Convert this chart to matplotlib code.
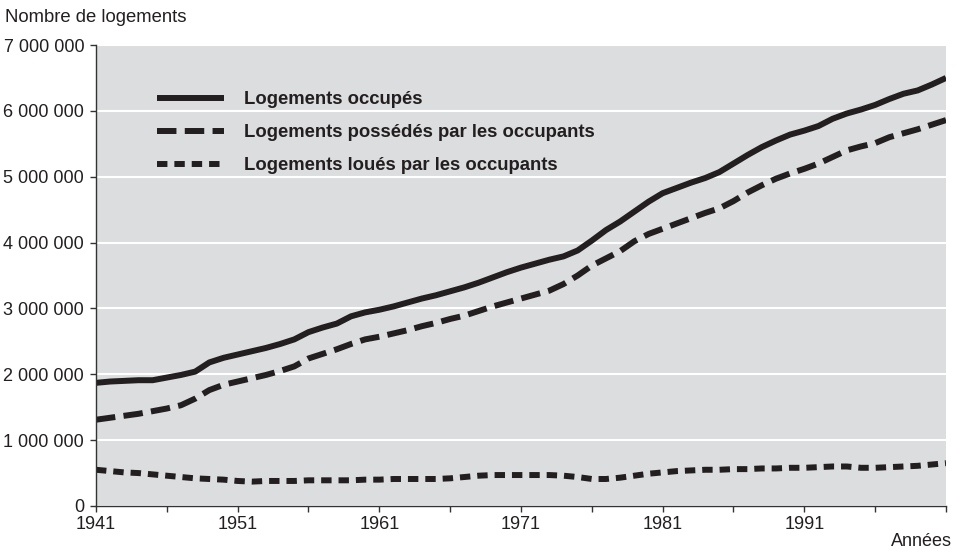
import numpy as np
import matplotlib
matplotlib.use("Agg")
import matplotlib.pyplot as plt
from matplotlib.ticker import FuncFormatter

plt.rcParams['font.family'] = ['Liberation Sans', 'DejaVu Sans']
plt.rcParams['lines.scale_dashes'] = False

annees = np.arange(1941, 2002)

# en millions de logements
occupes = [1.87, 1.89, 1.90, 1.91, 1.91, 1.95, 1.99, 2.04, 2.18, 2.25,
           2.30, 2.35, 2.40, 2.46, 2.53, 2.64, 2.71, 2.77, 2.88, 2.94,
           2.98, 3.03, 3.09, 3.15, 3.20, 3.26, 3.32, 3.39, 3.47, 3.55,
           3.62, 3.68, 3.74, 3.79, 3.88, 4.03, 4.19, 4.32, 4.47, 4.62,
           4.75, 4.83, 4.91, 4.98, 5.07, 5.20, 5.33, 5.45, 5.55, 5.64,
           5.70, 5.77, 5.88, 5.96, 6.02, 6.09, 6.18, 6.26, 6.31, 6.40,
           6.50]
possedes = [1.31, 1.34, 1.37, 1.40, 1.44, 1.48, 1.53, 1.63, 1.76, 1.84,
            1.89, 1.94, 1.99, 2.05, 2.12, 2.24, 2.31, 2.38, 2.46, 2.53,
            2.57, 2.62, 2.67, 2.73, 2.78, 2.84, 2.89, 2.96, 3.03, 3.09,
            3.15, 3.21, 3.27, 3.37, 3.50, 3.65, 3.76, 3.87, 4.02, 4.13,
            4.21, 4.29, 4.37, 4.45, 4.52, 4.63, 4.76, 4.87, 4.97, 5.05,
            5.12, 5.20, 5.30, 5.40, 5.46, 5.51, 5.60, 5.66, 5.72, 5.79,
            5.86]
loues = [0.55, 0.53, 0.51, 0.50, 0.48, 0.46, 0.44, 0.42, 0.41, 0.40,
         0.38, 0.37, 0.38, 0.38, 0.38, 0.39, 0.39, 0.39, 0.39, 0.40,
         0.40, 0.41, 0.41, 0.41, 0.41, 0.42, 0.44, 0.46, 0.47, 0.47,
         0.47, 0.47, 0.47, 0.46, 0.44, 0.41, 0.41, 0.43, 0.46, 0.49,
         0.51, 0.53, 0.54, 0.55, 0.55, 0.56, 0.56, 0.57, 0.57, 0.58,
         0.58, 0.59, 0.60, 0.60, 0.58, 0.58, 0.59, 0.60, 0.61, 0.63,
         0.65]

occupes = np.array(occupes) * 1e6
possedes = np.array(possedes) * 1e6
loues = np.array(loues) * 1e6

fig = plt.figure(figsize=(9.57, 5.55), dpi=100)
ax = fig.add_axes([0.1003, 0.0883, 0.8882, 0.8306])
ax.set_facecolor('#dcdddf')

c = '#231f20'
ax.plot(annees, occupes, color=c, lw=4.3, solid_capstyle='butt',
        label='Logements occupés')
ax.plot(annees, possedes, color=c, lw=4.3, dash_capstyle='butt',
        linestyle=(0, (14, 6)), label='Logements possédés par les occupants')
ax.plot(annees, loues, color=c, lw=4.3, dash_capstyle='butt',
        linestyle=(0, (7.5, 5)), label='Logements loués par les occupants')

ax.set_xlim(1941, 2001)
ax.set_ylim(0, 7e6)
ax.set_yticks(np.arange(0, 7.5e6, 1e6))
ax.yaxis.set_major_formatter(FuncFormatter(lambda v, p: f"{int(v):,}".replace(',', ' ')))
ax.set_xticks(np.arange(1941, 2002, 5))
ax.set_xticklabels([str(a) if (a - 1941) % 10 == 0 and a < 2001 else '' for a in range(1941, 2002, 5)])
ax.grid(axis='y', color='white', lw=1.5)
ax.set_axisbelow(True)

for s in ['top', 'right']:
    ax.spines[s].set_visible(False)
for s in ['left', 'bottom']:
    ax.spines[s].set_color('#333333')
    ax.spines[s].set_linewidth(1.0)
ax.tick_params(direction='out', length=4.5, width=1, color='#333333',
               labelsize=13, labelcolor='#231f20')
ax.tick_params(axis='y', pad=4)
ax.tick_params(axis='x', pad=3)

leg = ax.legend(loc='upper left', bbox_to_anchor=(0.072, 0.90), frameon=False,
                handlelength=3.6, handletextpad=1.1, labelspacing=0.87,
                borderaxespad=0, borderpad=0, prop={'size': 13.3, 'weight': 'bold'})
for t in leg.get_texts():
    t.set_color('#231f20')

fig.text(0.005, 1 - 17 / 555, 'Nombre de logements', fontsize=13.3, va='center',
         ha='left', color='#231f20')
fig.text(952 / 957, 1 - 542 / 555, 'Années', fontsize=13, va='center',
         ha='right', color='#231f20')

fig.savefig('out.png', dpi=100)
